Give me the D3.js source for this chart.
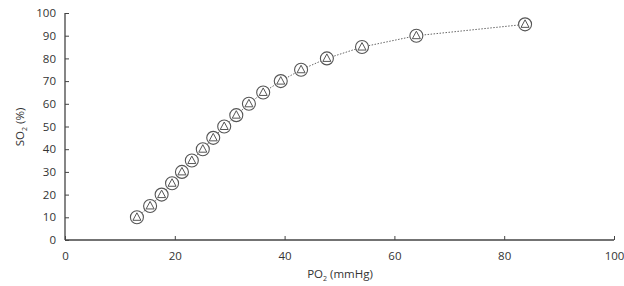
<!DOCTYPE html>
<html>
<head>
<meta charset="utf-8">
<script src="https://cdn.jsdelivr.net/npm/d3@7"></script>
<style>
  body { margin: 0; background: #fff; }
  svg text { font-family: "Open Sans", "Noto Sans", sans-serif; fill: #333; }
</style>
</head>
<body>
<svg id="chart"></svg>
<script>
// PO2 (mmHg), SO2 (%) in steps of 5
const po2 = [13.1, 15.5, 17.6, 19.5, 21.3, 23.1, 25.1, 27.0, 29.0, 31.2, 33.5, 36.1, 39.3, 43.0, 47.7, 54.1, 64.0, 83.8];
const so2 = [10, 15, 20, 25, 30, 35, 40, 45, 50, 55, 60, 65, 70, 75, 80, 85, 90, 95];
const xTicks = [0, 20, 40, 60, 80, 100];
const yTicks = [0, 10, 20, 30, 40, 50, 60, 70, 80, 90, 100];

const data = po2.map((p, i) => ({x: p, y: so2[i]}));

const width = 624, height = 286;
const margin = {top: 13, right: 10, bottom: 46, left: 65};
const innerW = 614 - margin.left;
const innerH = 240 - margin.top;

const svg = d3.select('#chart')
    .attr('width', width)
    .attr('height', height);

const chart = svg.append('g')
    .attr('transform', `translate(${margin.left},${margin.top})`);

const xScale = d3.scaleLinear().domain([0, 100]).range([0, innerW]);
const yScale = d3.scaleLinear().domain([0, 100]).range([innerH, 0]);

// axes with inward ticks
const xAxis = d3.axisBottom(xScale).tickValues(xTicks).tickSize(-4).tickPadding(12);
const yAxis = d3.axisLeft(yScale).tickValues(yTicks).tickSize(-4).tickPadding(9);

const xAxisG = chart.append('g')
    .attr('transform', `translate(0,${innerH})`)
    .call(xAxis);
const yAxisG = chart.append('g').call(yAxis);

[xAxisG, yAxisG].forEach(g => {
    g.select('.domain').attr('stroke', '#444').attr('stroke-width', 1.3);
    g.selectAll('.tick line').attr('stroke', '#444');
    g.selectAll('.tick text').attr('font-size', 11.5).attr('fill', '#333');
});
xAxisG.select('.domain').attr('d', `M0,0H${innerW}`);
yAxisG.select('.domain').attr('d', `M0,${innerH}V0`);

// dotted line through the points
const line = d3.line().x(d => xScale(d.x)).y(d => yScale(d.y));
chart.append('path')
    .datum(data)
    .attr('fill', 'none')
    .attr('stroke', '#666')
    .attr('stroke-width', 1)
    .attr('stroke-dasharray', '1.5,1.5')
    .attr('d', line);

// circle + triangle markers
const markers = chart.selectAll('.point')
    .data(data)
    .join('g')
    .attr('class', 'point')
    .attr('transform', d => `translate(${xScale(d.x)},${yScale(d.y)})`);

markers.append('circle')
    .attr('r', 6.5)
    .attr('fill', '#fff')
    .attr('stroke', '#555')
    .attr('stroke-width', 1.1);

markers.append('path')
    .attr('d', 'M0,-4.5L4,3L-4,3Z')
    .attr('fill', 'none')
    .attr('stroke', '#555')
    .attr('stroke-width', 1);

// axis titles
const xTitle = svg.append('text')
    .attr('x', 340)
    .attr('y', 278)
    .attr('text-anchor', 'middle')
    .attr('font-size', 11.5);
xTitle.append('tspan').text('PO');
xTitle.append('tspan').attr('font-size', 7).attr('dy', 3).text('2');
xTitle.append('tspan').attr('dy', -3).text(' (mmHg)');

const yTitle = svg.append('text')
    .attr('transform', 'translate(24,127) rotate(-90)')
    .attr('text-anchor', 'middle')
    .attr('font-size', 11.5);
yTitle.append('tspan').text('SO');
yTitle.append('tspan').attr('font-size', 7).attr('dy', 3).text('2');
yTitle.append('tspan').attr('dy', -3).text(' (%)');
</script>
</body>
</html>
